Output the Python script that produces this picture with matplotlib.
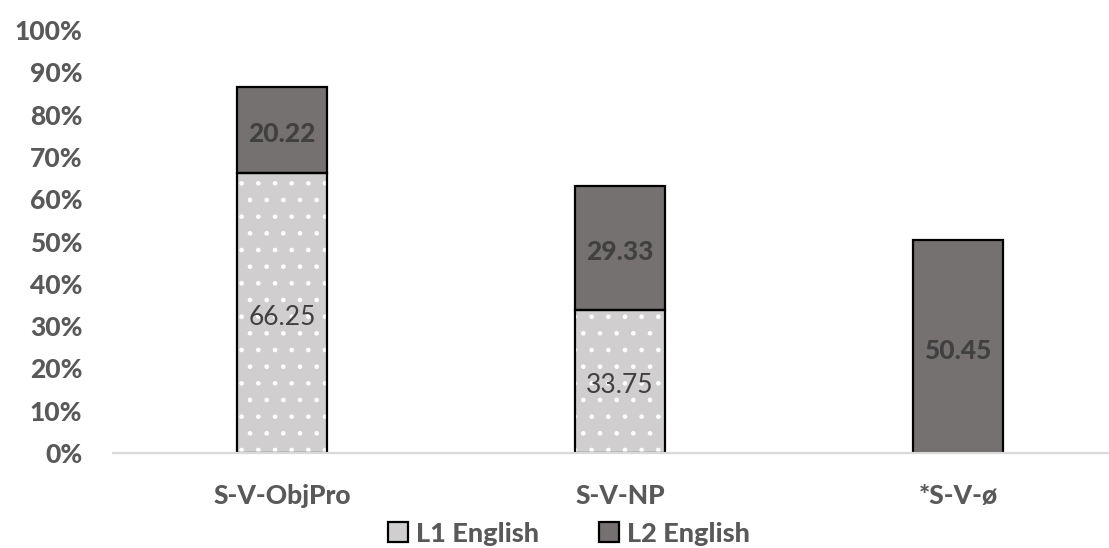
import matplotlib.pyplot as plt
import matplotlib as mpl

categories = ['S-V-ObjPro', 'S-V-NP', '*S-V-ø']
l1_english = [66.25, 33.75, 0]
l2_english = [20.22, 29.33, 50.45]
yticks = [0, 10, 20, 30, 40, 50, 60, 70, 80, 90, 100]

plt.rcParams['font.family'] = ['Lato', 'DejaVu Sans']
plt.rcParams['hatch.linewidth'] = 0.9
text_col = '#595959'
label_col = '#404040'
l1_col = '#d0cece'
l2_col = '#767171'
heavy = 900

fig = plt.figure(figsize=(11.09, 5.48), dpi=100)
ax = fig.add_axes([113 / 1109, 95 / 548, 1014 / 1109, 423 / 548])

x = list(range(len(categories)))
w = 0.266

# L1 fill with white dot pattern, then black outline on top
ax.bar(x, l1_english, w, color=l1_col, edgecolor='white', hatch='.', linewidth=0)
ax.bar(x, l2_english, w, bottom=l1_english, color=l2_col, linewidth=0)
for i in x:
    if l1_english[i] > 0:
        ax.bar(i, l1_english[i], w, fill=False, edgecolor='black', linewidth=1.6)
    ax.bar(i, l2_english[i], w, bottom=l1_english[i], fill=False, edgecolor='black', linewidth=1.6)

for i in x:
    if l1_english[i] > 0:
        ax.text(i, l1_english[i] / 2 - 1, f'{l1_english[i]:.2f}', ha='center', va='center',
                fontsize=19, color=label_col)
    ax.text(i, l1_english[i] + l2_english[i] / 2 - 1, f'{l2_english[i]:.2f}', ha='center',
            va='center', fontsize=19, color=label_col, fontweight=heavy)

ax.set_xlim(-0.5, 2.5)
ax.set_ylim(0, 100)
ax.set_yticks(yticks)
ax.set_yticklabels([f'{t}%' for t in yticks])
ax.set_xticks(x)
ax.set_xticklabels(categories)
for lab in ax.get_xticklabels() + ax.get_yticklabels():
    lab.set_fontweight(heavy)
    lab.set_fontsize(19)
    lab.set_color(text_col)
ax.tick_params(axis='y', length=0, pad=22)
ax.tick_params(axis='x', length=0, pad=22)

for s in ['top', 'right', 'left']:
    ax.spines[s].set_visible(False)
ax.spines['bottom'].set_color('#d9d9d9')
ax.spines['bottom'].set_linewidth(1.6)

h1 = mpl.patches.Patch(facecolor=l1_col, edgecolor='black', linewidth=1.6)
h2 = mpl.patches.Patch(facecolor=l2_col, edgecolor='black', linewidth=1.6)
leg = fig.legend([h1, h2], ['L1 English', 'L2 English'], loc='lower center',
                 bbox_to_anchor=(569 / 1109, -0.04), ncol=2, frameon=False,
                 handlelength=0.75, handleheight=0.75, handletextpad=0.3,
                 columnspacing=2.2, prop={'size': 19.5, 'weight': heavy})
for t in leg.get_texts():
    t.set_color(text_col)

fig.savefig('out.png', dpi=100)
